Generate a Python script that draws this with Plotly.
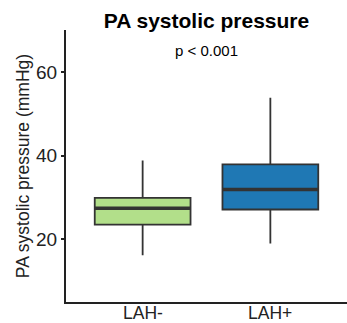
import plotly.graph_objects as go

# Summary statistics of PA systolic pressure (mmHg) per group
groups = ["LAH-", "LAH+"]
lower_whisker = [16.2, 19.0]
q1 = [23.5, 27.1]
median = [27.4, 31.9]
q3 = [29.9, 37.9]
upper_whisker = [38.8, 53.8]
fill_colors = ["#B2DF8A", "#1F78B4"]

y_ticks = [20, 40, 60]
box_width = 0.75
outline = "#333333"
font_family = "Liberation Sans, Arial, sans-serif"

fig = go.Figure()

for i, name in enumerate(groups):
    fig.add_trace(go.Box(
        x=[i],
        q1=[q1[i]], median=[median[i]], q3=[q3[i]],
        lowerfence=[lower_whisker[i]], upperfence=[upper_whisker[i]],
        width=box_width,
        fillcolor=fill_colors[i],
        line=dict(color=outline, width=1.8),
        whiskerwidth=0,
        boxpoints=False,
        hoverinfo="skip",
        showlegend=False,
        name=name,
    ))
    # heavier median bar on top of the box
    fig.add_trace(go.Scatter(
        x=[i - box_width / 2, i + box_width / 2],
        y=[median[i], median[i]],
        mode="lines",
        line=dict(color=outline, width=3.5),
        hoverinfo="skip",
        showlegend=False,
    ))
    # group label sitting tight under the x axis
    fig.add_annotation(
        x=i, xref="x", y=0, yref="paper",
        text=name, showarrow=False,
        yanchor="top", yshift=0, borderpad=0,
        font=dict(family=font_family, size=17.5, color="#222222"),
    )

fig.add_annotation(
    x=0.5, y=65, xref="x", yref="y",
    text="p < 0.001", showarrow=False,
    font=dict(family=font_family, size=15, color="black"),
)

fig.update_layout(
    width=347, height=323,
    margin=dict(l=66, r=0, t=30, b=21),
    paper_bgcolor="white", plot_bgcolor="white",
    title=dict(
        text="<b>PA systolic pressure</b>",
        x=(66 + 347) / 2 / 347, xanchor="center",
        y=1 - 21 / 323, yanchor="middle",
        font=dict(family=font_family, size=21, color="black"),
    ),
    font=dict(family=font_family, color="#222222"),
)

fig.update_xaxes(
    range=[-0.6, 1.6],
    tickvals=[0, 1],
    showticklabels=False,
    showgrid=False, zeroline=False,
    showline=True, linecolor="#222222", linewidth=2,
    ticks="",
    automargin=False,
)

fig.update_yaxes(
    range=[5, 70],
    tickvals=y_ticks,
    showgrid=False, zeroline=False,
    showline=True, linecolor="#222222", linewidth=2,
    ticks="outside", ticklen=3, tickwidth=1.5, tickcolor="#222222",
    tickfont=dict(size=19, color="#222222"),
    title=dict(text="PA systolic pressure (mmHg)", font=dict(size=17.5, color="#222222"), standoff=2),
    automargin=False,
)

fig.write_html("out.html")
